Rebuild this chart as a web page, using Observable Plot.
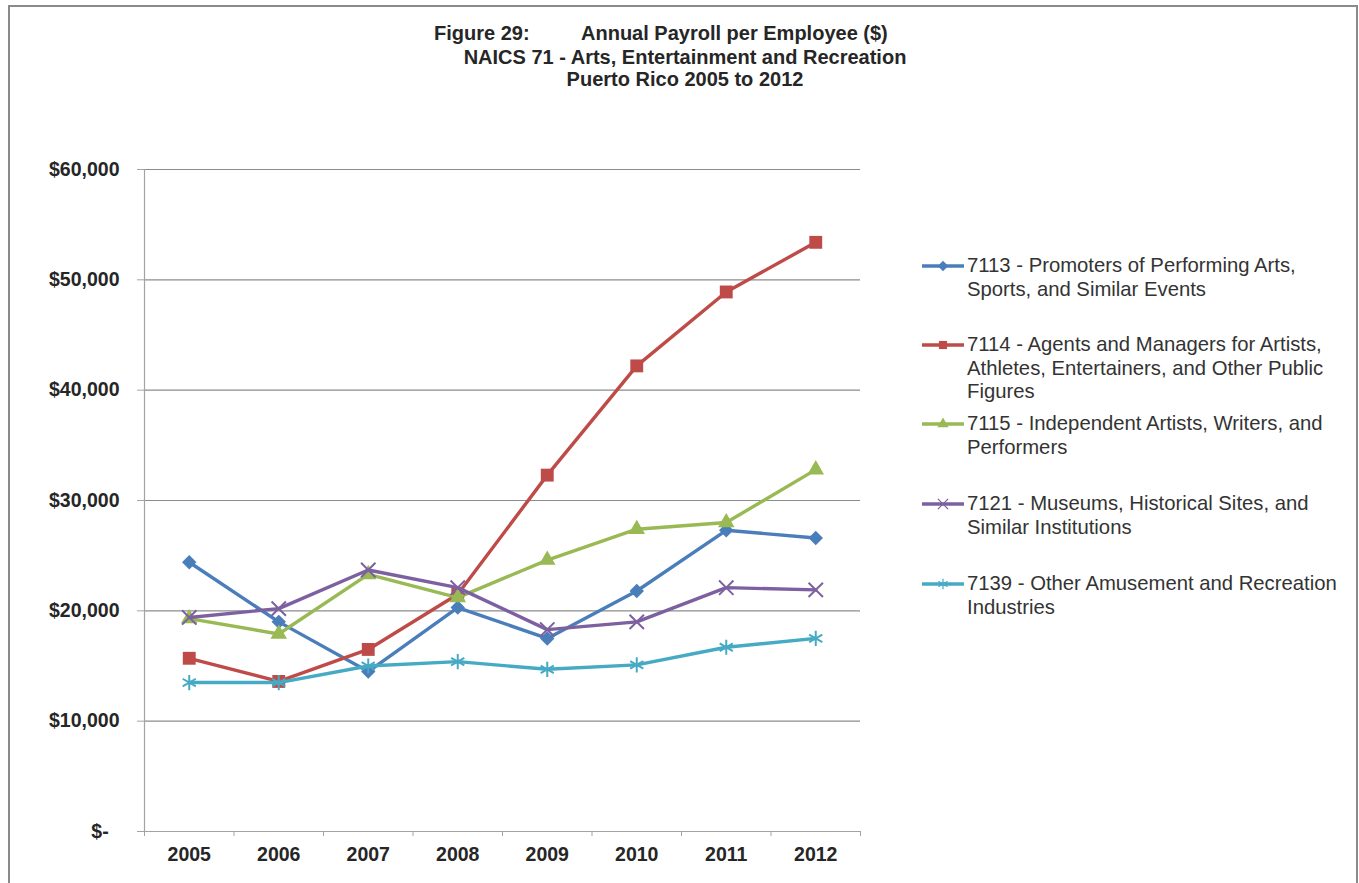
<!DOCTYPE html>
<html>
<head>
<meta charset="utf-8">
<script src="https://cdn.jsdelivr.net/npm/d3@7"></script>
<script src="https://cdn.jsdelivr.net/npm/@observablehq/plot@0.6"></script>
<style>
  body { margin: 0; background: #fff; }
  #wrap { position: relative; width: 1359px; height: 883px; overflow: hidden; background: #fff;
          font-family: "Liberation Sans", Arial, sans-serif; color: #262626; }
  #border { position: absolute; left: 8px; top: 5px; width: 1350px; height: 920px;
            border: 2px solid #8a8a8a; box-sizing: border-box; pointer-events: none; }
  #chart { position: absolute; left: 0; top: 0; }
  .t { position: absolute; font-weight: bold; font-size: 20px; line-height: 23px; white-space: nowrap; color: #262626; }
  .c { transform: translateX(-50%); }
  .lg { position: absolute; left: 967px; width: 374px; font-size: 20.3px; line-height: 23.5px; color: #333; }
  .sw { position: absolute; left: 920px; }
</style>
</head>
<body>
<div id="wrap">
  <div id="chart"></div>
  <div id="titles"></div>
  <div id="legend"></div>
  <div id="border"></div>
</div>
<script>
// ---- data ----
const years = [2005, 2006, 2007, 2008, 2009, 2010, 2011, 2012];
const seriesNames = [
  "7113 - Promoters of Performing Arts, Sports, and Similar Events",
  "7114 - Agents and Managers for Artists, Athletes, Entertainers, and Other Public Figures",
  "7115 - Independent Artists, Writers, and Performers",
  "7121 - Museums, Historical Sites, and Similar Institutions",
  "7139 - Other Amusement and Recreation Industries"
];
const v7113 = [24400, 19000, 14500, 20300, 17500, 21800, 27300, 26600];
const v7114 = [15700, 13600, 16500, 21500, 32300, 42200, 48900, 53400];
const v7115 = [19300, 17900, 23300, 21200, 24600, 27400, 28000, 32800];
const v7121 = [19400, 20200, 23700, 22100, 18300, 19000, 22100, 21900];
const v7139 = [13500, 13500, 15000, 15400, 14700, 15100, 16700, 17500];
const seriesValues = [v7113, v7114, v7115, v7121, v7139];
const yTicks = [0, 10000, 20000, 30000, 40000, 50000, 60000];
const titleLine1a = "Figure 29:";
const titleLine1b = "Annual Payroll per Employee ($)";
const titleLine2 = "NAICS  71 - Arts, Entertainment and Recreation";
const titleLine3 = "Puerto Rico 2005 to 2012";

// ---- styles ----
const colors = ["#4A7EBB", "#BE4B48", "#98B954", "#7D60A0", "#46AAC5"];
const symbols = ["diamond2", "square2", "triangle2", "times", "asterisk"];
const radii = [6.5, 8.2, 7.9, 6.6, 7.2];
const filled = [true, true, true, false, false];
const d3Symbols = [d3.symbolDiamond2, d3.symbolSquare2, d3.symbolTriangle2, d3.symbolTimes, d3.symbolAsterisk];

const rows = seriesNames.map((name, i) => years.map((yr, j) => ({series: name, year: yr, value: seriesValues[i][j]})));
const xDomain = [years[0] - 0.5, years[years.length - 1] + 0.5];
const boundaries = [...years.map(y => y - 0.5), years[years.length - 1] + 0.5];
const fmt = d3.format(",");
const yFormat = d => d === 0 ? "$-\u00a0\u00a0" : "$" + fmt(d);

const axisGray = "#a3a3a3";
const marks = [
  Plot.gridY(yTicks.filter(d => d > 0), {stroke: "#8c8c8c", strokeOpacity: 1, strokeWidth: 1.2}),
  Plot.ruleY([0], {stroke: axisGray, strokeWidth: 1.2}),
  Plot.ruleX([xDomain[0]], {stroke: axisGray, strokeWidth: 1.2}),
  Plot.axisY({ticks: yTicks, tickSize: 7, tickPadding: 18, tickFormat: yFormat, label: null,
              stroke: axisGray, fill: "#262626", fontWeight: "bold", fontSize: 19.5}),
  Plot.axisX({ticks: boundaries, tickSize: 5, tickFormat: () => "", label: null, stroke: axisGray}),
  Plot.axisX({ticks: years, tickSize: 0, tickPadding: 16, tickFormat: d => String(d), label: null,
              fill: "#262626", fontWeight: "bold", fontSize: 19.5})
];
rows.forEach((data, i) => {
  marks.push(Plot.line(data, {x: "year", y: "value", stroke: colors[i], strokeWidth: 3.4}));
  if (filled[i]) {
    marks.push(Plot.dot(data, {x: "year", y: "value", symbol: symbols[i], r: radii[i], fill: colors[i], stroke: "none"}));
  } else {
    marks.push(Plot.dot(data, {x: "year", y: "value", symbol: symbols[i], r: radii[i], fill: "none", stroke: colors[i], strokeWidth: 2}));
  }
});

const plot = Plot.plot({
  width: 1359,
  height: 883,
  marginLeft: 144,
  marginRight: 499,
  marginTop: 169,
  marginBottom: 52,
  x: {type: "linear", domain: xDomain, label: null},
  y: {type: "linear", domain: [0, 60000], label: null},
  style: {fontFamily: "'Liberation Sans', Arial, sans-serif", fontSize: "19.5px", background: "transparent", color: "#262626", overflow: "visible"},
  marks
});
document.getElementById("chart").appendChild(plot);

// ---- titles ----
const titles = document.getElementById("titles");
function addText(parent, cls, text, left, top) {
  const d = document.createElement("div");
  d.className = cls;
  d.textContent = text;
  d.style.left = left + "px";
  d.style.top = top + "px";
  parent.appendChild(d);
  return d;
}
addText(titles, "t", titleLine1a, 434, 21.5);
addText(titles, "t", titleLine1b, 581, 21.5);
addText(titles, "t c", titleLine2, 685, 45.5);
addText(titles, "t c", titleLine3, 685, 67.5);

// ---- legend ----
const legend = document.getElementById("legend");
const legendCenters = [266, 345, 424, 504, 584];
const legendSizes = [70, 85, 90, 70, 80];
seriesNames.forEach((name, i) => {
  const cy = legendCenters[i];
  addText(legend, "lg", name, 967, cy - 11.75);
  const svg = d3.select(legend).append("svg").attr("class", "sw")
    .attr("width", 46).attr("height", 14).style("top", (cy - 7) + "px");
  svg.append("line").attr("x1", 2).attr("x2", 44).attr("y1", 7).attr("y2", 7)
    .attr("stroke", colors[i]).attr("stroke-width", 3.3);
  const p = svg.append("path").attr("transform", "translate(23,7)")
    .attr("d", d3.symbol().type(d3Symbols[i]).size(legendSizes[i])());
  if (filled[i]) p.attr("fill", colors[i]);
  else p.attr("fill", "none").attr("stroke", colors[i]).attr("stroke-width", 1.2);
});
</script>
</body>
</html>
